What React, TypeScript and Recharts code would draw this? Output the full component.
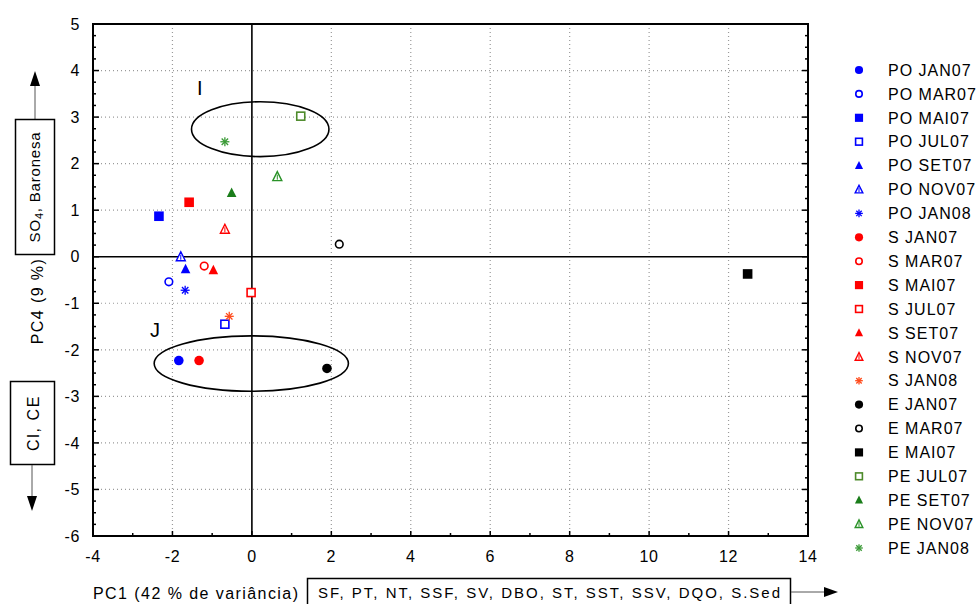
import React from 'react';
import {
  ScatterChart,
  Scatter,
  XAxis,
  YAxis,
  CartesianGrid,
  ReferenceLine,
  ReferenceArea,
  ReferenceDot,
  Legend,
} from 'recharts';

const FONT = '"Liberation Sans", Arial, Helvetica, sans-serif';

// samples (legend order)
const sampleNames = [
  'PO JAN07', 'PO MAR07', 'PO MAI07', 'PO JUL07', 'PO SET07', 'PO NOV07', 'PO JAN08',
  'S JAN07', 'S MAR07', 'S MAI07', 'S JUL07', 'S SET07', 'S NOV07', 'S JAN08',
  'E JAN07', 'E MAR07', 'E MAI07',
  'PE JUL07', 'PE SET07', 'PE NOV07', 'PE JAN08',
];
// PC1 scores
const pc1 = [
  -1.84, -2.09, -2.34, -0.68, -1.67, -1.79, -1.68,
  -1.33, -1.2, -1.58, -0.02, -0.97, -0.68, -0.57,
  1.89, 2.2, 12.48,
  1.23, -0.51, 0.64, -0.68,
];
// PC4 scores
const pc4 = [
  -2.23, -0.54, 0.87, -1.45, -0.27, 0.0, -0.72,
  -2.23, -0.2, 1.17, -0.77, -0.29, 0.59, -1.28,
  -2.4, 0.27, -0.37,
  3.02, 1.37, 1.72, 2.47,
];

// marker styles
const markerKinds = [
  'dot', 'ring', 'sq', 'sqo', 'tri', 'trio', 'ast',
  'dot', 'ring', 'sq', 'sqo', 'tri', 'trio', 'ast',
  'dot', 'ring', 'sq',
  'sqo', 'tri', 'trio', 'ast',
];
const markerColors = [
  '#0000ff', '#0000ff', '#0000ff', '#0000ff', '#0000ff', '#0000ff', '#0000ff',
  '#ff0000', '#ff0000', '#ff0000', '#ff0000', '#ff0000', '#ff0000', '#ff4a1a',
  '#000000', '#000000', '#000000',
  '#4d8a2a', '#1a7d1a', '#2a9228', '#3a9a36',
];

// highlighted groups (ellipses)
const groupLabels = ['I', 'J'];
const groupX1 = [-1.52, -2.46];
const groupX2 = [1.94, 2.43];
const groupY1 = [2.15, -2.89];
const groupY2 = [3.33, -1.7];
const groupLabelX = [-1.31, -2.44];
const groupLabelY = [3.62, -1.58];

// axes
const xMajor = [-4, -2, 0, 2, 4, 6, 8, 10, 12, 14];
const yMajor = [-6, -5, -4, -3, -2, -1, 0, 1, 2, 3, 4, 5];
const xTicks = Array.from({ length: 19 }, (_, i) => i - 4);
const yTicks = Array.from({ length: 45 }, (_, i) => -6 + i * 0.25);
const gridX = [-2, 2, 4, 6, 8, 10, 12];
const gridY = [-5, -4, -3, -2, -1, 1, 2, 3, 4];

const frameLine = { stroke: '#000', strokeWidth: 2, strokeLinecap: 'square' as const };

function Marker({ kind, color, cx, cy, s = 1 }: any) {
  switch (kind) {
    case 'dot':
      return <circle cx={cx} cy={cy} r={4.8 * s} fill={color} />;
    case 'ring':
      return <circle cx={cx} cy={cy} r={3.8 * s} fill="#fff" stroke={color} strokeWidth={1.6} />;
    case 'sq':
      return <rect x={cx - 4.8 * s} y={cy - 4.8 * s} width={9.6 * s} height={9.6 * s} fill={color} />;
    case 'sqo':
      return (
        <rect x={cx - 4 * s} y={cy - 4 * s} width={8 * s} height={8 * s} fill="#fff" stroke={color} strokeWidth={1.6} />
      );
    case 'tri':
      return (
        <polygon
          points={`${cx},${cy - 5.5 * s} ${cx + 4.8 * s},${cy + 4 * s} ${cx - 4.8 * s},${cy + 4 * s}`}
          fill={color}
        />
      );
    case 'trio':
      return (
        <g>
          <polygon
            points={`${cx},${cy - 5 * s} ${cx + 4.5 * s},${cy + 4 * s} ${cx - 4.5 * s},${cy + 4 * s}`}
            fill="#fff"
            stroke={color}
            strokeWidth={1.4}
          />
          <line x1={cx} x2={cx} y1={cy - 2 * s} y2={cy + 3 * s} stroke={color} strokeWidth={1} />
        </g>
      );
    case 'ast': {
      const r = 4.5 * s;
      const d = 3.2 * s;
      return (
        <g stroke={color} strokeWidth={1.3}>
          <line x1={cx - r} x2={cx + r} y1={cy} y2={cy} />
          <line x1={cx} x2={cx} y1={cy - r} y2={cy + r} />
          <line x1={cx - d} x2={cx + d} y1={cy - d} y2={cy + d} />
          <line x1={cx - d} x2={cx + d} y1={cy + d} y2={cy - d} />
        </g>
      );
    }
    default:
      return null;
  }
}

const tickText = { fontFamily: FONT, fontSize: 16, fill: '#000', letterSpacing: 0.6 };

function BottomTick({ x, y, payload }: any) {
  const v = payload.value;
  const major = xMajor.includes(v);
  return (
    <g>
      {v > -4 && v < 14 && (
        <line x1={x} x2={x} y1={y} y2={y - (major ? 5 : 3)} stroke="#000" strokeWidth={1.5} />
      )}
      {major && (
        <text x={x} y={y + 26} textAnchor="middle" {...tickText}>
          {v}
        </text>
      )}
    </g>
  );
}

function TopTick({ x, y, payload }: any) {
  const v = payload.value;
  const major = xMajor.includes(v);
  if (v <= -4 || v >= 14) return <g />;
  return <line x1={x} x2={x} y1={y} y2={y + (major ? 5 : 3)} stroke="#000" strokeWidth={1.5} />;
}

function LeftTick({ x, y, payload }: any) {
  const v = payload.value;
  const major = yMajor.includes(v);
  return (
    <g>
      {v > -6 && v < 5 && (
        <line x1={x} x2={x + (major ? 6 : 3)} y1={y} y2={y} stroke="#000" strokeWidth={1.5} />
      )}
      {major && (
        <text x={x - 13} y={y} dy="0.36em" textAnchor="end" {...tickText}>
          {v}
        </text>
      )}
    </g>
  );
}

function RightTick({ x, y, payload }: any) {
  const v = payload.value;
  const major = yMajor.includes(v);
  if (v <= -6 || v >= 5) return <g />;
  return <line x1={x} x2={x - (major ? 6 : 3)} y1={y} y2={y} stroke="#000" strokeWidth={1.5} />;
}

function LegendBox({ payload }: any) {
  const items = [...(payload || [])].sort(
    (a: any, b: any) => sampleNames.indexOf(a.value) - sampleNames.indexOf(b.value),
  );
  return (
    <svg width={136} height={520}>
      {items.map((item: any, i: number) => {
        const idx = sampleNames.indexOf(item.value);
        const cy = 12 + i * 23.9;
        return (
          <g key={item.value}>
            <Marker kind={markerKinds[idx]} color={markerColors[idx]} cx={19} cy={cy} s={0.85} />
            <text x={48} y={cy} dy="0.36em" fontFamily={FONT} fontSize={16} letterSpacing={1} fill="#000">
              {item.value}
            </text>
          </g>
        );
      })}
    </svg>
  );
}

export default function App() {
  return (
    <div style={{ position: 'absolute', left: 0, top: 0, width: 976, height: 604, background: '#fff' }}>
      <ScatterChart width={976} height={604} margin={{ top: 14, right: 158, bottom: 38, left: 43 }}>
        <CartesianGrid
          horizontalValues={gridY}
          verticalValues={gridX}
          stroke="#9a9a9a"
          strokeDasharray="1 3"
          strokeWidth={1.2}
        />
        <XAxis
          dataKey="x"
          type="number"
          domain={[-4, 14]}
          allowDataOverflow
          ticks={xTicks}
          interval={0}
          tick={BottomTick}
          tickLine={false}
          tickSize={0}
          tickMargin={0}
          height={30}
          axisLine={frameLine}
        />
        <XAxis
          xAxisId="top"
          orientation="top"
          type="number"
          domain={[-4, 14]}
          allowDataOverflow
          ticks={xTicks}
          interval={0}
          tick={TopTick}
          tickLine={false}
          tickSize={0}
          tickMargin={0}
          height={10}
          axisLine={frameLine}
        />
        <YAxis
          dataKey="y"
          type="number"
          domain={[-6, 5]}
          allowDataOverflow
          ticks={yTicks}
          interval={0}
          tick={LeftTick}
          tickLine={false}
          tickSize={0}
          tickMargin={0}
          width={50}
          axisLine={frameLine}
        />
        <YAxis
          yAxisId="right"
          orientation="right"
          type="number"
          domain={[-6, 5]}
          allowDataOverflow
          ticks={yTicks}
          interval={0}
          tick={RightTick}
          tickLine={false}
          tickSize={0}
          tickMargin={0}
          width={10}
          axisLine={frameLine}
        />
        <ReferenceLine x={0} stroke="#000" strokeWidth={1.6} />
        <ReferenceLine y={0} stroke="#000" strokeWidth={1.6} />
        {groupLabels.map((g, i) => (
          <ReferenceArea
            key={'area' + g}
            x1={groupX1[i]}
            x2={groupX2[i]}
            y1={groupY1[i]}
            y2={groupY2[i]}
            shape={(p: any) => (
              <ellipse
                cx={p.x + p.width / 2}
                cy={p.y + p.height / 2}
                rx={Math.abs(p.width) / 2}
                ry={Math.abs(p.height) / 2}
                fill="none"
                stroke="#000"
                strokeWidth={1.6}
              />
            )}
          />
        ))}
        {groupLabels.map((g, i) => (
          <ReferenceDot
            key={'lbl' + g}
            x={groupLabelX[i]}
            y={groupLabelY[i]}
            shape={(p: any) => (
              <text x={p.cx} y={p.cy} dy="0.36em" textAnchor="middle" fontFamily={FONT} fontSize={20} fill="#000">
                {g}
              </text>
            )}
          />
        ))}
        {sampleNames.map((name, i) => (
          <Scatter
            key={name}
            name={name}
            data={[{ x: pc1[i], y: pc4[i] }]}
            fill={markerColors[i]}
            isAnimationActive={false}
            shape={(p: any) => <Marker kind={markerKinds[i]} color={markerColors[i]} cx={p.cx} cy={p.cy} />}
          />
        ))}
        <Legend
          layout="vertical"
          align="center"
          verticalAlign="middle"
          wrapperStyle={{ left: 840, top: 58, width: 136, height: 520 }}
          content={LegendBox}
        />
      </ScatterChart>
      <svg
        width={976}
        height={604}
        style={{ position: 'absolute', left: 0, top: 0, pointerEvents: 'none' }}
        fontFamily={FONT}
      >
        {/* y axis annotations */}
        <line x1={35} x2={35} y1={119} y2={84} stroke="#555" strokeWidth={1} />
        <polygon points="30,86 40,86 35,71" fill="#000" />
        <rect x={15.5} y={119.5} width={39} height={135} fill="#fff" stroke="#000" strokeWidth={1.5} />
        <text
          x={35}
          y={187}
          dy="0.36em"
          textAnchor="middle"
          fontSize={15}
          letterSpacing={0.8}
          transform="rotate(-90 35 187)"
        >
          SO<tspan fontSize={11} dy={3}>4</tspan>
          <tspan dy={-3}>, Baronesa</tspan>
        </text>
        <text x={37} y={301} dy="0.36em" textAnchor="middle" fontSize={16} letterSpacing={1.4} transform="rotate(-90 37 301)">
          PC4 (9 %)
        </text>
        <rect x={10.5} y={381.5} width={44} height={83} fill="#fff" stroke="#000" strokeWidth={1.5} />
        <text x={33} y={423} dy="0.36em" textAnchor="middle" fontSize={16} letterSpacing={1.6} transform="rotate(-90 33 423)">
          Cl, CE
        </text>
        <line x1={32} x2={32} y1={465} y2={498} stroke="#555" strokeWidth={1} />
        <polygon points="27,496 37,496 32,511" fill="#000" />
        {/* x axis annotations */}
        <text x={93} y={599} fontSize={16} textLength={205} lengthAdjust="spacing">
          PC1 (42 % de variância)
        </text>
        <rect x={307.5} y={578.5} width={483} height={30} fill="#fff" stroke="#000" strokeWidth={1.5} />
        <text x={318} y={598} fontSize={15} textLength={462} lengthAdjust="spacing">
          SF, PT, NT, SSF, SV, DBO, ST, SST, SSV, DQO, S.Sed
        </text>
        <line x1={791} x2={826} y1={592} y2={592} stroke="#555" strokeWidth={1} />
        <polygon points="824,587 824,597 838,592" fill="#000" />
      </svg>
    </div>
  );
}
